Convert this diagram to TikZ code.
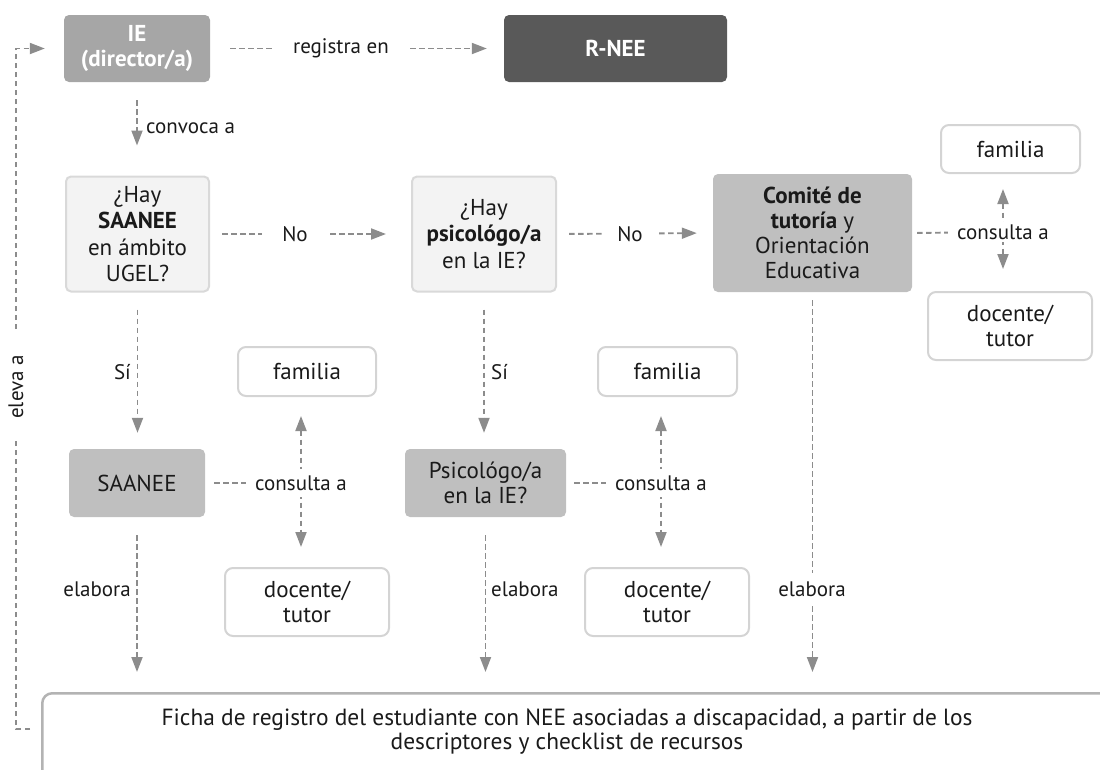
\documentclass[tikz,border=0pt]{standalone}
\usepackage{fontspec}
\setmainfont{PT Sans}
\usetikzlibrary{arrows.meta}
\definecolor{lineg}{HTML}{8C8C8C}
\definecolor{darkfill}{HTML}{595959}
\definecolor{midfill}{HTML}{A6A6A6}
\definecolor{grayfill}{HTML}{BFBFBF}
\definecolor{qfill}{HTML}{F3F3F3}
\definecolor{qdraw}{HTML}{D9D9D9}
\definecolor{wdraw}{HTML}{D4D4D4}
\definecolor{fdraw}{HTML}{B3B3B3}
\definecolor{txt}{HTML}{1A1A1A}
\begin{document}
\begin{tikzpicture}[x=1pt,y=-1pt,
  boxbase/.style={rectangle, rounded corners=5pt, align=center, inner sep=0pt, text=txt,
    font=\fontsize{23}{25}\selectfont},
  darkbox/.style={boxbase, fill=darkfill, text=white},
  midbox/.style={boxbase, fill=midfill, text=white},
  graybox/.style={boxbase, fill=grayfill},
  qbox/.style={boxbase, fill=qfill, draw=qdraw, line width=2pt, font=\fontsize{23}{26.5}\selectfont},
  wbox/.style={boxbase, fill=white, draw=wdraw, line width=2pt, rounded corners=8pt},
  lbl/.style={font=\fontsize{21}{24}\selectfont, text=txt, fill=white, inner xsep=9pt, inner ysep=7pt},
  plainlbl/.style={font=\fontsize{21}{24}\selectfont, text=txt, inner sep=0pt},
  conn/.style={draw=lineg, line width=1.9pt, dash pattern=on 5.5pt off 3.5pt},
  arr/.style={conn, -{Triangle[length=15pt,width=11pt]}},
  darr/.style={conn, {Triangle[length=15pt,width=11pt]}-{Triangle[length=15pt,width=11pt]}}
]
\useasboundingbox (0,0) rectangle (1100,769);

% boxes
\node[midbox, minimum width=146pt, minimum height=67pt] (ie) at (137,48.5) {\textbf{IE}\\\textbf{(director/a)}};
\node[darkbox, minimum width=223pt, minimum height=67pt] (rnee) at (615.5,48.5) {\textbf{R-NEE}};
\node[qbox, minimum width=143pt, minimum height=115pt] (q1) at (137.5,234) {¿Hay\\\textbf{SAANEE}\\en ámbito\\UGEL?};
\node[qbox, minimum width=144pt, minimum height=115pt] (q2) at (484,234) {¿Hay\\\textbf{psicológo/a}\\en la IE?};
\node[graybox, minimum width=199pt, minimum height=118pt] (com) at (812.5,233) {\textbf{Comité de}\\\textbf{tutoría} y\\Orientación\\Educativa};
\node[wbox, minimum width=139pt, minimum height=48pt] (fam3) at (1010.5,149) {familia};
\node[wbox, minimum width=164pt, minimum height=68pt] (doc3) at (1010,326) {docente/\\tutor};
\node[graybox, minimum width=136pt, minimum height=68pt] (saa) at (137,483) {SAANEE};
\node[graybox, minimum width=161pt, minimum height=68pt] (psi) at (485.5,483) {Psicológo/a\\en la IE?};
\node[wbox, minimum width=138pt, minimum height=49pt] (fam1) at (307,371.5) {familia};
\node[wbox, minimum width=164pt, minimum height=68pt] (doc1) at (307,602) {docente/\\tutor};
\node[wbox, minimum width=139pt, minimum height=49pt] (fam2) at (667.5,371.5) {familia};
\node[wbox, minimum width=164pt, minimum height=68pt] (doc2) at (667,602) {docente/\\tutor};
\node[rectangle, rounded corners=10pt, draw=fdraw, line width=2.5pt, fill=white,
  minimum width=1160pt, minimum height=150pt, anchor=north west] (fbox) at (41,692) {};
\node[align=center, text=txt, font=\fontsize{23.4}{24}\selectfont] (ftext) at (567,732)
  {Ficha de registro del estudiante con NEE asociadas a discapacidad, a partir de los\\descriptores y checklist de recursos};

% coordinates for the feedback loop
\coordinate (ev) at (30,729);
\coordinate (rail) at (16,400);

% connectors
\draw[arr, shorten <=20pt, shorten >=17pt] (ie.east) -- (rnee.west);
\draw[arr, shorten <=18pt, shorten >=30pt] (ie.south) -- (ie.south |- q1.north);
\draw[arr, shorten <=12pt, shorten >=25pt] (q1.east) -- (q2.west);
\draw[arr, shorten <=12pt, shorten >=16pt] (q2.east) -- (com.west);
\draw[arr, shorten <=17pt, shorten >=16pt] (q1.south) -- (q1.south |- saa.north);
\draw[arr, shorten <=17pt, shorten >=16pt] (q2.south) -- (q2.south |- psi.north);
\draw[arr, shorten <=18pt, shorten >=20pt] (saa.south) -- (saa.south |- fbox.north);
\draw[arr, shorten <=18pt, shorten >=20pt] (psi.south) -- (psi.south |- fbox.north);
\draw[arr, shorten <=8pt, shorten >=20pt] (com.south) -- (com.south |- fbox.north);
\draw[arr, shorten >=19pt] (ev) -| (rail) |- (ie.west);

% consulta groups
\node[plainlbl] (ca1) at (301,483) {consulta a};
\node[plainlbl] (ca2) at (661,483) {consulta a};
\node[plainlbl] (ca3) at (1003,232) {consulta a};
\draw[conn, shorten <=9pt] (saa.east) -- (ca1.center);
\draw[conn, shorten <=8pt] (psi.east) -- (ca2.center);
\draw[conn, shorten <=5pt] (com.east) -- (ca3.center);
\draw[darr, shorten <=19pt, shorten >=20pt] (ca1 |- fam1.south) -- (ca1 |- doc1.north);
\draw[darr, shorten <=19pt, shorten >=20pt] (ca2 |- fam2.south) -- (ca2 |- doc2.north);
\draw[darr, shorten <=15pt, shorten >=22pt] (ca3 |- fam3.south) -- (ca3 |- doc3.north);
\node[lbl, inner ysep=7pt] at (ca1) {consulta a};
\node[lbl, inner ysep=7pt] at (ca2) {consulta a};
\node[lbl, inner ysep=3pt] at (ca3) {consulta a};

% labels
\node[lbl, inner xsep=21pt] (lreg) at (341,48.5) {registra en};
\node[plainlbl, anchor=west] (lconv) at (146,128) {convoca a};
\node[lbl, inner xsep=20pt] (lno1) at (295,234) {No};
\node[lbl, inner xsep=15pt] (lno2) at (630,234) {No};
\node[plainlbl, anchor=east] (lsi1) at (131,372) {Sí};
\node[plainlbl, anchor=west] (lsi2) at (491,372) {Sí};
\node[plainlbl, anchor=east] (lel1) at (131,589) {elabora};
\node[plainlbl, anchor=west] (lel2) at (491,589) {elabora};
\node[lbl, inner ysep=9pt] (lel3) at (812,589) {elabora};
\node[lbl, rotate=90, inner xsep=22pt] (lelev) at (16,387) {eleva a};
\end{tikzpicture}
\end{document}
